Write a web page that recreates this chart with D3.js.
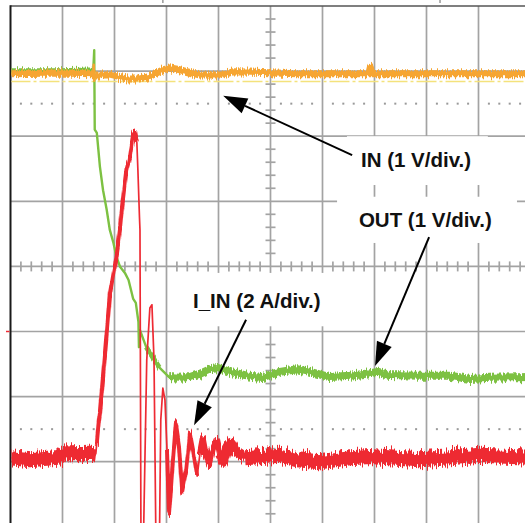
<!DOCTYPE html>
<html>
<head>
<meta charset="utf-8">
<script src="https://cdn.jsdelivr.net/npm/d3@7/dist/d3.min.js"></script>
<style>
  body { margin: 0; background: #fff; }
  svg { display: block; }
  .lbl { font-family: "Liberation Sans", Arial, sans-serif; font-weight: bold; }
</style>
</head>
<body>
<div id="scope"></div>
<script>
// valeurs lues sur la capture : [temps (div), niveau (div)]
// IN, 1 V/div
const inTrace = [[0,2.96],[0.95,2.97],[1.59,2.96],[1.60,3.10],[1.61,2.85],[1.63,2.94],[1.91,2.94],
  [2.05,2.91],[2.24,2.88],[2.49,2.88],[2.68,2.92],[2.93,3.02],[3.07,3.05],[3.26,3.02],[3.45,2.98],
  [3.64,2.94],[3.89,2.94],[4.09,2.94],[4.28,2.99],[4.84,2.98],[5.5,2.96],[6.89,2.96],[6.92,3.06],
  [6.95,2.96],[8.5,2.96],[10,2.96]];

// OUT, 1 V/div
const outTrace = [[0,2.99],[0.95,2.99],[1.53,3.00],[1.59,2.99],[1.61,3.32],[1.62,2.10],[1.66,2.05],
  [1.69,1.79],[1.72,1.53],[1.78,1.17],[1.85,0.87],[1.91,0.56],[1.98,0.36],[2.04,0.14],[2.11,-0.01],
  [2.20,-0.10],[2.27,-0.21],[2.36,-0.50],[2.41,-0.56],[2.46,-0.85],[2.47,-1.24],[2.49,-0.98],
  [2.61,-1.24],[2.73,-1.39],[2.86,-1.55],[3.05,-1.70],[3.24,-1.71],[3.45,-1.70],[3.64,-1.65],
  [3.84,-1.58],[3.99,-1.56],[4.22,-1.62],[4.51,-1.67],[4.84,-1.70],[5.18,-1.62],[5.51,-1.58],
  [5.76,-1.62],[6.14,-1.70],[6.53,-1.68],[6.91,-1.64],[7.07,-1.62],[7.30,-1.67],[7.87,-1.68],
  [8.45,-1.68],[8.84,-1.73],[9.22,-1.71],[10,-1.70]];

// I_IN, 2 A/div (les creux hors écran sont à -4.5)
const iinTrace = [[0,-2.94],[0.38,-2.97],[0.95,-2.93],[1.0,-2.88],[1.53,-2.87],[1.64,-2.88],
  [1.66,-2.71],[1.70,-2.36],[1.72,-2.24],[1.82,-1.31],[1.91,-0.44],[2.01,0.02],[2.07,0.36],
  [2.11,0.61],[2.14,0.87],[2.17,1.07],[2.20,1.28],[2.23,1.48],[2.28,1.63],[2.33,1.90],[2.36,2.05],
  [2.39,2.07],[2.43,1.90],[2.45,1.48],[2.48,0.76],[2.49,0.56],[2.51,-4.5],[2.55,-4.5],[2.62,-1.44],
  [2.68,-0.64],[2.72,-0.59],[2.76,-1.44],[2.80,-4.5],[2.86,-4.5],[2.89,-2.36],[2.93,-1.87],
  [2.97,-2.05],[3.01,-2.82],[3.05,-3.82],[3.11,-3.13],[3.18,-2.41],[3.24,-2.74],[3.30,-3.48],
  [3.38,-3.13],[3.45,-2.56],[3.51,-2.82],[3.59,-3.22],[3.64,-2.90],[3.70,-2.64],[3.76,-2.90],
  [3.82,-3.05],[3.89,-2.82],[3.97,-2.68],[4.03,-2.90],[4.09,-3.00],[4.16,-2.82],[4.24,-2.71],
  [4.34,-2.85],[4.51,-2.94],[4.84,-2.92],[5.18,-2.90],[5.51,-2.97],[5.95,-3.00],[6.53,-2.94],
  [6.91,-2.92],[7.87,-2.97],[8.45,-2.94],[9.03,-2.90],[10,-2.93]];

const inRefLevel = 2.84;          // ligne jaune pointillée
const markerLevels = [2.5, -2.5]; // rangées de points
const iinGround = -1;             // repère rouge à gauche

const labelTexts = ["IN (1 V/div.)", "OUT (1 V/div.)", "I_IN (2 A/div.)"];
const labelPos = [[6.74, 1.53], [6.70, 0.61], [3.51, -0.64]];
// cadres blancs derrière les étiquettes : [t0, t1, v0, v1]
const labelBoxes = [[6.47, 9.18, 2.00, 1.25], [6.28, 9.74, 1.07, 0.36], [3.03, 6.43, -0.10, -0.92]];
// flèches : [départ, pointe]
const arrows = [[[6.57, 1.71], [4.09, 2.62]], [[8.05, 0.45], [7.01, -1.53]], [[4.53, -0.82], [3.53, -2.44]]];

const W = 525, H = 523;
const x = d3.scaleLinear().domain([0, 10]).range([10.5, 530.5]);
const y = d3.scaleLinear().domain([4, -4]).range([6, 526.8]);

const svg = d3.select("#scope").append("svg").attr("width", W).attr("height", H);
const defs = svg.append("defs");

defs.append("clipPath").attr("id", "screen")
  .append("rect").attr("x", x(0) + 1).attr("y", y(4)).attr("width", W).attr("height", H);

// petit bruit vertical pour les parties épaisses des traces
function jagFilter(id, scale){
  const f = defs.append("filter").attr("id", id)
    .attr("filterUnits", "userSpaceOnUse")
    .attr("x", 0).attr("y", 0).attr("width", W).attr("height", H);
  f.append("feTurbulence").attr("type", "fractalNoise")
    .attr("baseFrequency", "0.8 0.03").attr("numOctaves", 1).attr("seed", 4).attr("result", "n");
  // G fixé à 0.5 : pas de décalage horizontal
  f.append("feColorMatrix").attr("in", "n").attr("type", "matrix")
    .attr("values", "1 0 0 0 0  0 0 0 0 0.5  0 0 0 0 0  0 0 0 0 1").attr("result", "m");
  f.append("feDisplacementMap").attr("in", "SourceGraphic").attr("in2", "m")
    .attr("scale", scale).attr("xChannelSelector", "G").attr("yChannelSelector", "R");
}
jagFilter("jagS", 10);
jagFilter("jagL", 17);

const gridColor = "#a3a3a3";

// grille
const grid = svg.append("g").attr("stroke", gridColor).attr("stroke-width", 1.7);
grid.selectAll("line.v").data(d3.range(1, 10)).join("line").attr("class", "v")
  .attr("x1", d => x(d)).attr("x2", d => x(d)).attr("y1", y(4)).attr("y2", H);
grid.selectAll("line.h").data(d3.range(-3, 4)).join("line").attr("class", "h")
  .attr("x1", x(0)).attr("x2", W).attr("y1", d => y(d)).attr("y2", d => y(d));

// graduations des axes centraux
const minorT = d3.range(0, 10.01, 0.2).filter(d => Math.abs(d - Math.round(d)) > 0.01);
const minorV = d3.range(-4, 4.01, 0.2).filter(d => Math.abs(d - Math.round(d)) > 0.01);
grid.selectAll("line.tt").data(minorT).join("line").attr("class", "tt")
  .attr("x1", d => x(d)).attr("x2", d => x(d)).attr("y1", y(0) - 5).attr("y2", y(0) + 5);
grid.selectAll("line.tv").data(minorV).join("line").attr("class", "tv")
  .attr("x1", x(5) - 5).attr("x2", x(5) + 5).attr("y1", d => y(d)).attr("y2", d => y(d));

// rangées de points
svg.append("g").attr("fill", "#9a9a9a")
  .selectAll("g").data(markerLevels).join("g")
  .selectAll("rect").data(v => minorT.map(t => [t, v])).join("rect")
  .attr("x", d => x(d[0]) - 1).attr("y", d => y(d[1]) - 1).attr("width", 2).attr("height", 2);

// bords
svg.append("line").attr("x1", x(0)).attr("x2", W).attr("y1", y(4)).attr("y2", y(4))
  .attr("stroke", "#555").attr("stroke-width", 1.6);
svg.append("line").attr("x1", x(0)).attr("x2", x(0)).attr("y1", y(4) - 0.8).attr("y2", H)
  .attr("stroke", "#1a1a1a").attr("stroke-width", 2);
svg.append("line").attr("x1", x(0) - 4.5).attr("x2", x(0) - 1).attr("y1", y(iinGround)).attr("y2", y(iinGround))
  .attr("stroke", "#ee2a33").attr("stroke-width", 1.5);
svg.selectAll("line.trig").data([2.93, 8.26]).join("line").attr("class", "trig")
  .attr("x1", d => x(d)).attr("x2", d => x(d)).attr("y1", 0).attr("y2", 3)
  .attr("stroke", "#999").attr("stroke-width", 1.5);

// cadres des étiquettes
svg.append("g").selectAll("rect").data(labelBoxes).join("rect")
  .attr("x", d => x(d[0])).attr("width", d => x(d[1]) - x(d[0]))
  .attr("y", d => y(d[2])).attr("height", d => y(d[3]) - y(d[2]))
  .attr("fill", "#fff");

// traces
const line = d3.line().x(d => x(d[0])).y(d => y(d[1]));
const traces = svg.append("g").attr("clip-path", "url(#screen)")
  .attr("fill", "none").attr("stroke-linejoin", "round");

function part(data, a, b){ return data.filter(d => d[0] >= a && d[0] <= b); }

function drawTrace(data, color, thin, bands, filt){
  traces.append("path").attr("d", line(data)).attr("stroke", color)
    .attr("stroke-width", thin).attr("stroke-linecap", "round");
  bands.forEach(b => {
    traces.append("path").attr("d", line(part(data, b[0], b[1])))
      .attr("stroke", color).attr("stroke-width", b[2]).attr("stroke-linecap", "butt")
      .attr("filter", `url(#${filt})`);
  });
}

traces.append("line").attr("x1", x(0)).attr("x2", W).attr("y1", y(inRefLevel)).attr("y2", y(inRefLevel))
  .attr("stroke", "#f4e27c").attr("stroke-width", 1.6).attr("stroke-dasharray", "20,3,3,3");

drawTrace(outTrace, "#7dc142", 2.4, [[0, 1.59, 7], [2.5, 3.0, 5], [3.0, 10, 8]], "jagS");
drawTrace(inTrace, "#f6a532", 2.4, [[0, 1.59, 7], [1.63, 10, 7]], "jagS");
drawTrace(iinTrace, "#ee2a33", 1.7, [[0, 1.64, 15], [1.66, 2.43, 4], [3.0, 3.6, 4],
  [3.6, 4.1, 6], [4.0, 4.6, 10], [4.5, 10, 15]], "jagL");

// flèches
const ann = svg.append("g");
arrows.forEach(a => {
  const x0 = x(a[0][0]), y0 = y(a[0][1]), x1 = x(a[1][0]), y1 = y(a[1][1]);
  const ang = Math.atan2(y1 - y0, x1 - x0), len = 24, hw = 8;
  const bx = x1 - len * Math.cos(ang), by = y1 - len * Math.sin(ang);
  ann.append("line").attr("x1", x0).attr("y1", y0).attr("x2", bx).attr("y2", by)
    .attr("stroke", "#000").attr("stroke-width", 2);
  const px = -Math.sin(ang) * hw, py = Math.cos(ang) * hw;
  ann.append("path")
    .attr("d", `M${x1},${y1}L${bx + px},${by + py}L${bx - px},${by - py}Z`)
    .attr("fill", "#000");
});

// étiquettes
ann.selectAll("text").data(labelTexts).join("text")
  .attr("class", "lbl")
  .attr("x", (d, i) => x(labelPos[i][0])).attr("y", (d, i) => y(labelPos[i][1]))
  .attr("font-size", 20.5).attr("fill", "#111")
  .text(d => d);
</script>
</body>
</html>
